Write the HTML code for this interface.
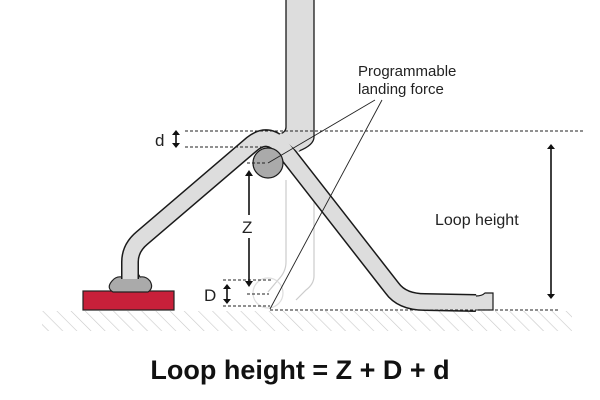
<!DOCTYPE html>
<html><head><meta charset="utf-8"><style>html,body{margin:0;padding:0;background:#fff}svg{display:block}</style></head><body>
<svg width="600" height="400" viewBox="0 0 600 400" xmlns="http://www.w3.org/2000/svg" font-family="Liberation Sans, sans-serif">
<defs><pattern id="h" width="10" height="10" patternUnits="userSpaceOnUse" patternTransform="rotate(-45)"><line x1="0" y1="0" x2="0" y2="10" stroke="#c8c8c8" stroke-width="1.2"/></pattern></defs>
<rect x="42" y="311" width="530" height="20" fill="url(#h)"/>
<!-- ghost capillary -->
<path d="M286,180 L286,262 Q286,272 278,280 L268,292 M314,180 L314,276 Q314,284 306,290 L296,300" fill="none" stroke="#ccc" stroke-width="1.2"/>
<circle cx="268" cy="293" r="15" fill="none" stroke="#ddd" stroke-width="1.2"/>
<!-- red pad -->
<rect x="83" y="291" width="91" height="19" fill="#c8203a" stroke="#222" stroke-width="1.2"/>
<!-- ball -->
<path d="M113,292 Q106,288 112,281 Q116,276 122,277 Q124,272 131,272 Q138,272 140,277 Q146,276 150,281 Q154,288 148,292 Z" fill="#aaa" stroke="#222" stroke-width="1.2"/>
<!-- wire -->
<g fill="none" stroke-linejoin="round">
<path d="M130,279 L130,262 Q130,248 142,238 L252,144 Q268,131 282,147 L392,288 Q402,302 425,302 L476,303" stroke="#1a1a1a" stroke-width="18"/>
<path d="M130,279 L130,262 Q130,248 142,238 L252,144 Q268,131 282,147 L392,288 Q402,302 425,302 L476,303" stroke="#ddd" stroke-width="15"/>
</g>
<path d="M470,296 Q480,296 484,293 L493,293 L493,310 L470,310 Z" fill="#ddd"/>
<path d="M476,296 Q482,296 485,293 L493,293 L493,310 L478,310" fill="none" stroke="#1a1a1a" stroke-width="1.2"/>
<!-- capillary -->
<path d="M286,-2 L286,127 Q286,132 280,134 L299,151 Q314,145 314,137 L314,-2 Z" fill="#ddd" stroke="#1a1a1a" stroke-width="1.3"/>
<path d="M280,134 L299,151" stroke="#ddd" stroke-width="3"/>
<circle cx="268" cy="163" r="15" fill="#aaa" stroke="#1a1a1a" stroke-width="1.2"/>
<!-- dashed -->
<g stroke="#222" stroke-width="1" stroke-dasharray="3,2">
<line x1="185" y1="131" x2="585" y2="131"/>
<line x1="185" y1="147" x2="262" y2="147"/>
<line x1="247" y1="163" x2="267" y2="163"/>
<line x1="223" y1="280" x2="272" y2="280"/>
<line x1="247" y1="294" x2="269" y2="294"/>
<line x1="223" y1="306" x2="270" y2="306"/>
<line x1="270" y1="310" x2="558" y2="310"/>
</g>
<!-- leaders -->
<g stroke="#222" stroke-width="0.9">
<line x1="375" y1="100" x2="268" y2="163"/>
<line x1="382" y1="100" x2="270" y2="309"/>
</g>
<!-- arrows -->
<g stroke="#111" stroke-width="1.6" fill="#111">
<line x1="176" y1="134" x2="176" y2="144"/>
<path d="M172,135 L176,130 L180,135 Z M172,143 L176,148 L180,143 Z" stroke="none"/>
<line x1="249" y1="176" x2="249" y2="215"/><line x1="249" y1="238" x2="249" y2="282"/>
<path d="M245,176 L249,170 L253,176 Z M245,281 L249,287 L253,281 Z" stroke="none"/>
<line x1="227" y1="288" x2="227" y2="300"/>
<path d="M223,289 L227,284 L231,289 Z M223,299 L227,304 L231,299 Z" stroke="none"/>
<line x1="551" y1="148" x2="551" y2="294"/>
<path d="M547,149 L551,144 L555,149 Z M547,294 L551,299 L555,294 Z" stroke="none"/>
</g>
<g fill="#222" font-size="15">
<text x="155" y="146" font-size="17">d</text>
<text x="242" y="233" font-size="17">Z</text>
<text x="204" y="301" font-size="17">D</text>
<text x="435" y="225" font-size="16">Loop height</text>
<text x="358" y="76">Programmable</text>
<text x="358" y="94">landing force</text>
</g>
<text x="300" y="379" text-anchor="middle" font-size="27" font-weight="bold" fill="#111">Loop height = Z + D + d</text>
</svg>
</body></html>
